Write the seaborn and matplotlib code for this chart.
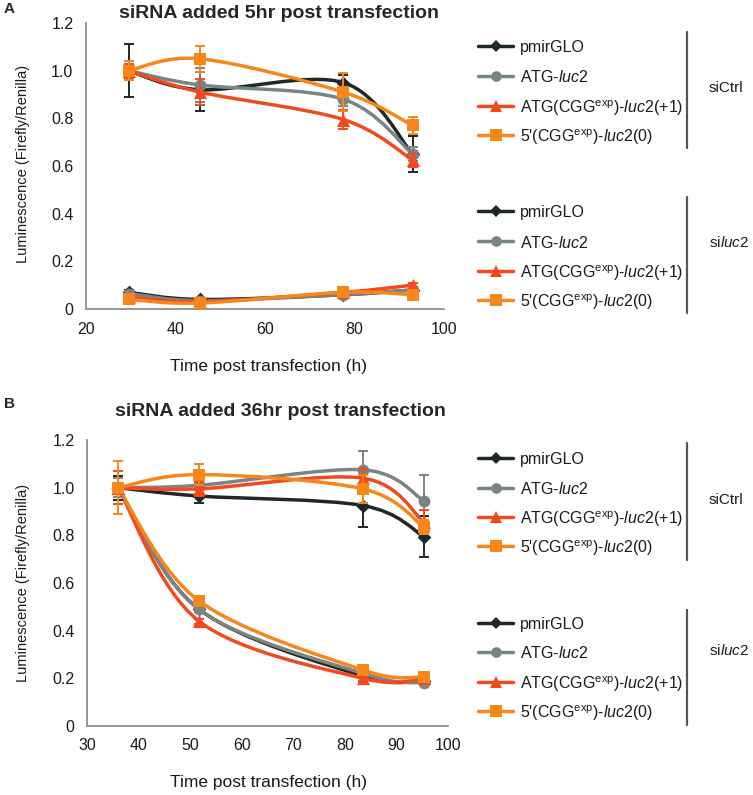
import numpy as np
import matplotlib
matplotlib.use("Agg")
import matplotlib.pyplot as plt
from matplotlib.path import Path
from matplotlib.patches import PathPatch
from matplotlib.lines import Line2D
import seaborn as sns

# ---------------- data ----------------
series_labels = ["pmirGLO",
                 r"ATG-$\mathit{luc2}$",
                 r"ATG(CGG$^{\mathrm{exp}}$)-$\mathit{luc2}$(+1)",
                 r"5'(CGG$^{\mathrm{exp}}$)-$\mathit{luc2}$(0)"]
series_colors = ["#1e2828", "#7b8485", "#f24a1c", "#f7861b"]
series_markers = ["D", "o", "^", "s"]
marker_sizes = [7, 8.5, 9.5, 9]

# Panel A: siRNA added 5hr post transfection
time_a = [29.5, 45.5, 77.5, 93.0]
a_sictrl_mean = [[1.00, 0.92, 0.95, 0.65],
                 [1.00, 0.94, 0.88, 0.65],
                 [1.00, 0.91, 0.795, 0.625],
                 [1.00, 1.05, 0.91, 0.77]]
a_sictrl_err = [[0.11, 0.09, 0.03, 0.075],
                [0.04, 0.07, 0.03, 0.03],
                [0.03, 0.055, 0.04, 0.03],
                [0.04, 0.055, 0.08, 0.035]]
a_siluc2_mean = [[0.07, 0.04, 0.06, 0.08],
                 [0.065, 0.035, 0.06, 0.08],
                 [0.05, 0.03, 0.07, 0.10],
                 [0.04, 0.025, 0.07, 0.06]]
a_siluc2_err = [[0.01, 0.005, 0.01, 0.01],
                [0.01, 0.005, 0.01, 0.01],
                [0.01, 0.005, 0.01, 0.01],
                [0.01, 0.005, 0.01, 0.01]]

# Panel B: siRNA added 36hr post transfection
time_b = [36.0, 51.7, 83.5, 95.3]
b_sictrl_mean = [[1.00, 0.965, 0.925, 0.795],
                 [1.00, 1.01, 1.075, 0.945],
                 [1.00, 0.995, 1.04, 0.855],
                 [1.00, 1.055, 0.995, 0.835]]
b_sictrl_err = [[0.05, 0.03, 0.09, 0.085],
                [0.04, 0.02, 0.08, 0.11],
                [0.07, 0.03, 0.04, 0.05],
                [0.11, 0.045, 0.06, 0.03]]
b_siluc2_mean = [[1.00, 0.49, 0.21, 0.19],
                 [1.00, 0.49, 0.22, 0.18],
                 [1.00, 0.44, 0.20, 0.20],
                 [1.00, 0.525, 0.235, 0.205]]
b_siluc2_err = [[0.02, 0.01, 0.01, 0.01],
                [0.02, 0.01, 0.01, 0.01],
                [0.02, 0.01, 0.01, 0.01],
                [0.02, 0.01, 0.01, 0.01]]

# ---------------- style ----------------
sns.set_style("white")
plt.rcParams["font.family"] = ["Liberation Sans", "DejaVu Sans"]
plt.rcParams["mathtext.fontset"] = "custom"
plt.rcParams["mathtext.rm"] = "Liberation Sans"
plt.rcParams["mathtext.it"] = "Liberation Sans:italic"
plt.rcParams["mathtext.bf"] = "Liberation Sans:bold"

W, H = 753, 795
fig = plt.figure(figsize=(W / 100, H / 100), dpi=100)


def fx(px):
    return px / W


def fy(py):
    return 1 - py / H


def smooth_path(xs, ys):
    pts = np.column_stack([xs, ys]).astype(float)
    n = len(pts)
    verts = [pts[0]]
    codes = [Path.MOVETO]
    for i in range(n - 1):
        p0 = pts[max(i - 1, 0)]
        p1 = pts[i]
        p2 = pts[i + 1]
        p3 = pts[min(i + 2, n - 1)]
        c1 = p1 + (p2 - p0) / 6.0
        c2 = p2 - (p3 - p1) / 6.0
        verts += [c1, c2, p2]
        codes += [Path.CURVE4] * 3
    return Path(verts, codes)


def draw_group(ax, t, means, errs, zbase):
    for i in range(4):
        c = series_colors[i]
        z = zbase + i
        ax.errorbar(t, means[i], yerr=errs[i], fmt="none", ecolor=c,
                    elinewidth=1.4, capsize=3.5, capthick=1.4, zorder=z)
        patch = PathPatch(smooth_path(t, means[i]), facecolor="none",
                          edgecolor=c, lw=2.5, capstyle="round",
                          joinstyle="round", zorder=z + 0.1)
        ax.add_patch(patch)
        sns.scatterplot(x=t, y=means[i], ax=ax, marker=series_markers[i],
                        s=marker_sizes[i] ** 2, color=c, edgecolor=c,
                        linewidth=0, zorder=z + 0.2, legend=False)


def style_axes(ax, xlim, xticks):
    ax.set_xlim(*xlim)
    ax.set_ylim(0, 1.2)
    ax.set_xticks(xticks)
    ax.set_xticklabels([str(v) for v in xticks])
    yt = [0, 0.2, 0.4, 0.6, 0.8, 1.0, 1.2]
    ax.set_yticks(yt)
    ax.set_yticklabels(["0"] + [f"{v:.1f}" for v in yt[1:]])
    for s in ["top", "right"]:
        ax.spines[s].set_visible(False)
    for s in ["left", "bottom"]:
        ax.spines[s].set_color("#8a8f90")
        ax.spines[s].set_linewidth(1.3)
    ax.tick_params(axis="both", direction="out", length=5, width=1.2,
                   color="#8a8f90", labelsize=11.5, labelcolor="#1a1a1a",
                   pad=4)
    ax.set_xlabel("")
    ax.set_ylabel("")
    ax.grid(False)
    ax.patch.set_alpha(0)


def legend_block(rows_y, bar_top, bar_bot, group_label, group_y):
    for i, ry in enumerate(rows_y):
        c = series_colors[i]
        fig.add_artist(Line2D([fx(478), fx(513)], [fy(ry), fy(ry)],
                              transform=fig.transFigure, color=c, lw=2.5))
        fig.add_artist(Line2D([fx(495.5)], [fy(ry)], transform=fig.transFigure,
                              marker=series_markers[i],
                              markersize=marker_sizes[i] * 0.9,
                              color=c, markeredgewidth=0, linestyle="none"))
        fig.text(fx(520), fy(ry), series_labels[i], fontsize=11.5,
                 ha="left", va="center_baseline", color="#1a1a1a")
    fig.add_artist(Line2D([fx(687), fx(687)], [fy(bar_top), fy(bar_bot)],
                          transform=fig.transFigure, color="#555555", lw=1.6))
    fig.text(fx(709), fy(group_y), group_label, fontsize=11,
             ha="left", va="center_baseline", color="#1a1a1a")


# ---------------- panel A ----------------
axA = fig.add_axes([fx(86), fy(309), (444 - 86) / W, (309 - 23) / H])
draw_group(axA, time_a, a_sictrl_mean, a_sictrl_err, 3)
draw_group(axA, time_a, a_siluc2_mean, a_siluc2_err, 10)
style_axes(axA, (20, 100), [20, 40, 60, 80, 100])

# ---------------- panel B ----------------
axB = fig.add_axes([fx(87), fy(726), (448 - 87) / W, (726 - 440) / H])
draw_group(axB, time_b, b_siluc2_mean, b_siluc2_err, 3)
draw_group(axB, time_b, b_sictrl_mean, b_sictrl_err, 10)
style_axes(axB, (30, 100), [30, 40, 50, 60, 70, 80, 90, 100])

# ---------------- texts ----------------
fig.text(fx(4), fy(9), "A", fontsize=11, fontweight="bold", ha="left", va="center")
fig.text(fx(4), fy(404), "B", fontsize=11, fontweight="bold", ha="left", va="center")
fig.text(fx(279), fy(13), "siRNA added 5hr post transfection", fontsize=14,
         fontweight="bold", ha="center", va="center")
fig.text(fx(280), fy(412), "siRNA added 36hr post transfection", fontsize=14,
         fontweight="bold", ha="center", va="center")
for yc in (164, 583):
    fig.text(fx(23), fy(yc), "Luminescence (Firefly/Renilla)", fontsize=10.5,
             rotation=90, ha="center", va="center", color="#1a1a1a")
for yc in (367, 782):
    fig.text(fx(268), fy(yc), "Time post transfection (h)", fontsize=12.5,
             ha="center", va="center", color="#1a1a1a")

# ---------------- legends ----------------
legend_block([46, 76, 106, 135], 32, 148, "siCtrl", 86)
legend_block([211, 241, 271, 300], 197, 313, r"si$\mathit{luc2}$", 241)
legend_block([458, 488, 517, 546], 443, 560, "siCtrl", 498)
legend_block([623, 652, 682, 711], 610, 725, r"si$\mathit{luc2}$", 649)

fig.savefig("out.png", dpi=100)
